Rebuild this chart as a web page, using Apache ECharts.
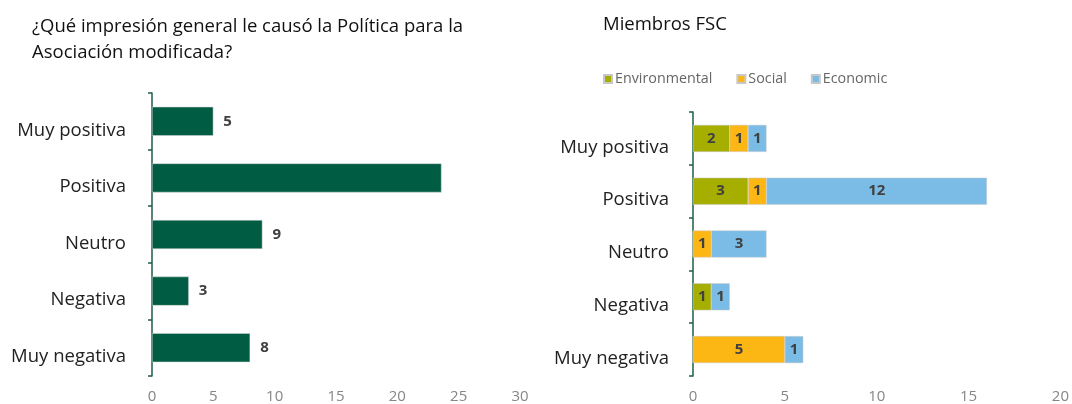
<!DOCTYPE html>
<html>
<head>
<meta charset="utf-8">
<script src="https://cdn.jsdelivr.net/npm/echarts@6/dist/echarts.min.js"></script>
<style>
  html, body { margin: 0; padding: 0; background: #fff; }
  #myecharts { width: 1072px; height: 404px; }
</style>
</head>
<body>
<div id="myecharts"></div>
<script>
// categories (top to bottom as shown)
var categories = ['Muy positiva', 'Positiva', 'Neutro', 'Negativa', 'Muy negativa'];

// left chart: overall impression
var general = [5, 23.6, 9, 3, 8];
var hideLabel = [false, true, false, false, false]; // Positiva label not shown in original

// right chart: FSC members by chamber
var environmental = [2, 3, 0, 1, 0];
var social = [1, 1, 1, 0, 5];
var economic = [1, 12, 3, 1, 1];

var leftTicks = [0, 30, 5];
var rightTicks = [0, 20, 5];

var FONT = 'Open Sans, Liberation Sans, sans-serif';
var axisGreen = '#1E5E45';

var hh = document.getElementById('myecharts');
var echart = echarts.init(hh);

function catAxis(idx) {
    return {
        type: 'category',
        gridIndex: idx,
        data: categories,
        inverse: true,
        axisLine: { lineStyle: { color: axisGreen, width: 1.5 } },
        axisTick: { show: true, inside: false, length: 4, lineStyle: { color: axisGreen, width: 1.5 } },
        // labels sit a bit below the bar centre, like the original
        axisLabel: { color: '#222', fontSize: 18.5, fontFamily: FONT, margin: idx === 0 ? 26 : 24,
                     verticalAlign: 'top', lineHeight: 18 }
    };
}

function valAxis(idx, t) {
    return {
        type: 'value',
        gridIndex: idx,
        min: t[0], max: t[1], interval: t[2],
        splitLine: { show: false },
        axisLine: { show: false },
        axisTick: { show: false },
        axisLabel: { color: '#868686', fontSize: 15, fontFamily: FONT, margin: 13 }
    };
}

function stackLabel() {
    return {
        show: true, position: 'inside',
        color: '#404040', fontWeight: 'bold', fontSize: 15, fontFamily: FONT,
        formatter: function (p) { return p.value ? p.value : ''; }
    };
}

var option = {
    animation: false,
    title: [
        { text: '¿Qué impresión general le causó la Política para la\nAsociación modificada?',
          left: 27, top: 9,
          textStyle: { fontSize: 18.5, fontWeight: 'normal', color: '#111', fontFamily: FONT, lineHeight: 26 } },
        { text: 'Miembros FSC', left: 598, top: 10,
          textStyle: { fontSize: 18.5, fontWeight: 'normal', color: '#111', fontFamily: FONT } }
    ],
    legend: {
        left: 598, top: 67,
        itemWidth: 8, itemHeight: 8, itemGap: 24,
        icon: 'rect',
        textStyle: { color: '#666', fontSize: 14.3, fontFamily: FONT, padding: [0, 0, 0, -2] },
        data: ['Environmental', 'Social', 'Economic']
    },
    grid: [
        { left: 152, right: 552, top: 93, bottom: 27 },
        { left: 693, right: 10, top: 112, bottom: 27 }
    ],
    xAxis: [valAxis(0, leftTicks), valAxis(1, rightTicks)],
    yAxis: [catAxis(0), catAxis(1)],
    series: [
        {
            type: 'bar', xAxisIndex: 0, yAxisIndex: 0,
            barWidth: 29,
            itemStyle: { color: '#005C42', borderColor: '#d8d8d8', borderWidth: 0.5 },
            label: { show: true, position: 'right', distance: 10, color: '#404040', fontWeight: 'bold', fontSize: 15, fontFamily: FONT },
            data: general.map(function (v, i) {
                return hideLabel[i] ? { value: v, label: { show: false } } : v;
            })
        },
        {
            name: 'Environmental', type: 'bar', stack: 'fsc', xAxisIndex: 1, yAxisIndex: 1,
            barWidth: 27,
            itemStyle: { color: '#A6AE00', borderColor: '#c8c8c8', borderWidth: 0.5 },
            label: stackLabel(), data: environmental
        },
        {
            name: 'Social', type: 'bar', stack: 'fsc', xAxisIndex: 1, yAxisIndex: 1,
            barWidth: 27,
            itemStyle: { color: '#FCB715', borderColor: '#c8c8c8', borderWidth: 0.5 },
            label: stackLabel(), data: social
        },
        {
            name: 'Economic', type: 'bar', stack: 'fsc', xAxisIndex: 1, yAxisIndex: 1,
            barWidth: 27,
            itemStyle: { color: '#7BBCE6', borderColor: '#c8c8c8', borderWidth: 0.5 },
            label: stackLabel(), data: economic
        }
    ]
};

echart.setOption(option);

window.addEventListener('resize', function() {
    if (echart) {
        echart.resize();
    }
});
</script>
</body>
</html>
